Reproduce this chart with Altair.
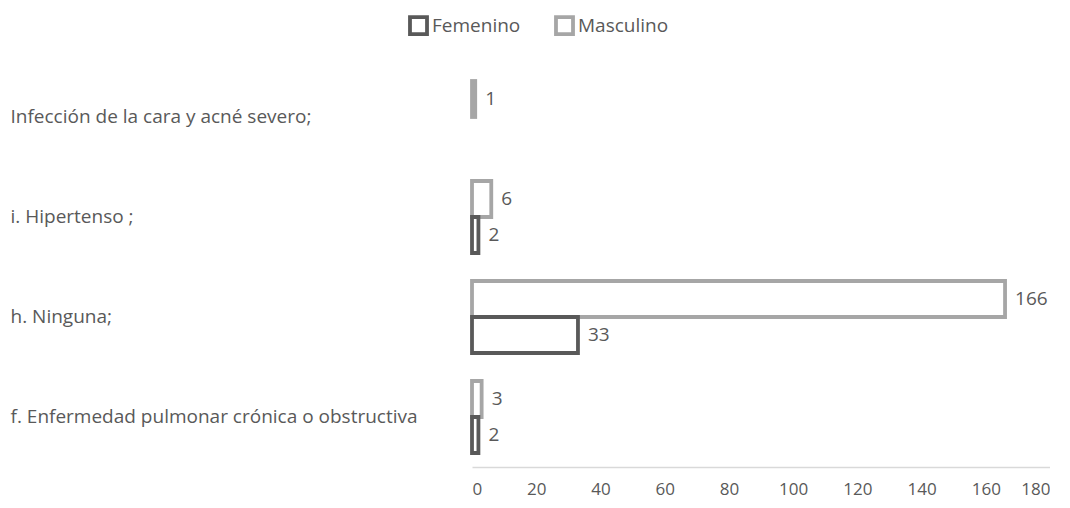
import altair as alt
import pandas as pd

categories = [
    "Infección de la cara y acné severo;",
    "i. Hipertenso ;",
    "h. Ninguna;",
    "f. Enfermedad pulmonar crónica o obstructiva",
]
masculino = [1, 6, 166, 3]
femenino = [None, 2, 33, 2]
series = ["Masculino", "Femenino"]
x_ticks = [0, 20, 40, 60, 80, 100, 120, 140, 160, 180]

rows = []
for c, m, f in zip(categories, masculino, femenino):
    rows.append({"cat": c, "sex": "Masculino", "val": m})
    if f is not None:
        rows.append({"cat": c, "sex": "Femenino", "val": f})
df = pd.DataFrame(rows)

FONT = "Open Sans"
TXT = "#595959"
FS = 19

y_enc = alt.Y(
    "cat:N",
    sort=categories,
    scale=alt.Scale(paddingInner=0.28, paddingOuter=0.14),
    axis=alt.Axis(
        title=None, domain=False, ticks=False, labelAlign="left",
        labelPadding=462, labelFontSize=FS, labelColor=TXT, labelFont=FONT,
        labelLimit=500,
    ),
)
yoff = alt.YOffset("sex:N", sort=series, scale=alt.Scale(domain=series, paddingInner=0, paddingOuter=0))
x_enc = alt.X(
    "val:Q",
    scale=alt.Scale(domain=[0, 180], nice=False),
    axis=alt.Axis(
        title=None, values=x_ticks, grid=False, ticks=False, domainColor="#d9d9d9",
        domainWidth=1.5, labelPadding=14, labelFontSize=17, labelColor=TXT, labelFont=FONT,
    ),
)

bars = alt.Chart(df).mark_bar(fill="white", strokeWidth=3.8).encode(
    x=x_enc,
    y=y_enc,
    yOffset=yoff,
    stroke=alt.Stroke(
        "sex:N",
        scale=alt.Scale(domain=["Femenino", "Masculino"], range=["#595959", "#a6a6a6"]),
        legend=alt.Legend(
            title=None, orient="none", direction="horizontal", legendX=-64, legendY=-52,
            symbolType="square", symbolSize=290, symbolFillColor="white", symbolStrokeWidth=3.8,
            labelFontSize=FS, labelColor=TXT, labelFont=FONT, columnPadding=27, labelOffset=3,
        ),
    ),
)

labels = alt.Chart(df).mark_text(align="left", dx=10, fontSize=FS, color=TXT, font=FONT).encode(
    x="val:Q",
    y=y_enc,
    yOffset=yoff,
    text="val:Q",
)

chart = (bars + labels).properties(
    width=578, height=400,
    padding={"left": 2, "top": 7, "right": 0, "bottom": 4},
).configure_view(stroke=None)

chart.save("out.html", embed_options={"renderer": "svg", "actions": False})
